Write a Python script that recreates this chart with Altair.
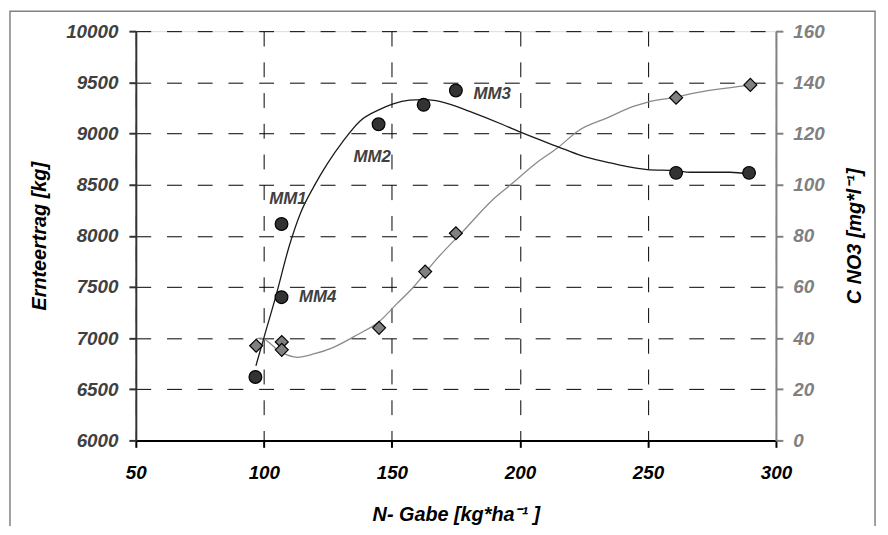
import altair as alt
import pandas as pd

FONT = "Liberation Sans"

# measured points: yield (left axis)
yield_x = [96.7, 106.9, 106.9, 144.8, 162.4, 175.0, 261.0, 289.5]
yield_y = [6620, 7400, 8115, 9090, 9280, 9420, 8615, 8615]

# measured points: NO3 concentration (right axis)
no3_x = [97.0, 107.0, 107.0, 145.0, 163.0, 175.0, 261.0, 290.0]
no3_y = [37.0, 38.5, 35.4, 44.0, 66.0, 81.0, 134.0, 139.0]

# smoothed curve of yield
curve1_x = [96.9, 100.2, 104.7, 109.8, 114.3, 119.5, 124.7, 131.1, 137.5, 145.3, 150.5,
            156.9, 162.0, 167.2, 173.7, 180.1, 193.0, 200.7, 214.9, 224.0, 234.3, 242.0,
            249.7, 260.7, 266.5, 282.0, 289.5]
curve1_y = [6730, 7020, 7410, 7890, 8220, 8480, 8700, 8930, 9120, 9235, 9290,
            9325, 9330, 9322, 9277, 9218, 9090, 9008, 8870, 8783, 8718, 8676,
            8647, 8637, 8621, 8621, 8605]

# smoothed curve of NO3
curve2_x = [96.9, 98.8, 106.6, 113.1, 119.5, 127.2, 136.3, 145.3, 151.7, 158.2, 167.2,
            178.0, 189.2, 196.8, 205.9, 214.9, 222.7, 234.3, 244.6, 249.7, 260.7, 266.5, 289.5]
curve2_y = [39.6, 40.0, 34.5, 32.5, 33.8, 36.4, 41.2, 46.7, 53.2, 59.7, 70.6,
            82.0, 93.9, 100.3, 108.1, 114.5, 121.0, 126.2, 130.7, 132.2, 134.2, 135.5, 138.8]

# annotation labels (anchor in data units)
label_text = ["MM1", "MM2", "MM3", "MM4"]
label_x = [102.1, 135.0, 181.9, 113.7]
label_y = [8356, 8766, 9390, 7400]

x_ticks = [50, 100, 150, 200, 250, 300]
y1_ticks = list(range(6000, 10001, 500))
y2_ticks = list(range(0, 161, 20))

df_yield = pd.DataFrame({"x": yield_x, "y": yield_y})
df_no3 = pd.DataFrame({"x": no3_x, "y": no3_y})
df_c1 = pd.DataFrame({"x": curve1_x, "y": curve1_y})
df_c2 = pd.DataFrame({"x": curve2_x, "y": curve2_y})
df_lab = pd.DataFrame({"x": label_x, "y": label_y, "t": label_text})

W, H = 646, 413
LBL = 19

xscale = alt.Scale(domain=[50, 300], nice=False, zero=False)
y1scale = alt.Scale(domain=[6000, 10000], nice=False, zero=False)
y2scale = alt.Scale(domain=[0, 160], nice=False, zero=False)

common_lbl = dict(labelFont=FONT, labelFontStyle="italic", labelFontWeight="bold",
                  titleFont=FONT, titleFontStyle="italic", titleFontWeight="bold",
                  titleColor="#000000")

x_axis = alt.Axis(values=x_ticks, format="d", grid=True, gridDash=[15, 16], gridColor="#000000",
                  gridWidth=1, domainColor="#000000", domainWidth=2, tickColor="#000000",
                  tickWidth=2, tickSize=7, labelColor="#000000", labelFontSize=LBL,
                  labelPadding=16, labelFlush=False, labelOverlap=False,
                  title="N- Gabe [kg*ha\u207b\u00b9 ]", titleFontSize=20,
                  titleX=W / 2, titleY=75, titleAlign="center", titleBaseline="middle",
                  **common_lbl)

y1_axis = alt.Axis(values=y1_ticks, format="d", orient="left", grid=True, gridDash=[15, 16],
                   gridColor="#000000", gridWidth=1, domainColor="#333333", domainWidth=2,
                   tickColor="#333333", tickWidth=2, tickSize=7, labelColor="#404040",
                   labelFontSize=LBL, labelPadding=11, labelOverlap=False,
                   title="Ernteertrag [kg]", titleFontSize=20, titleAngle=270,
                   titleX=-97, titleY=H / 2, titleAlign="center", titleBaseline="middle",
                   **common_lbl)

y2_axis = alt.Axis(values=y2_ticks, format="d", orient="right", grid=False,
                   domainColor="#808080", domainWidth=2, tickColor="#808080", tickWidth=2,
                   tickSize=7, labelColor="#808080", labelFontSize=LBL, labelPadding=10,
                   labelOverlap=False,
                   title="C NO3 [mg*l\u207b\u00b9]", titleFontSize=20, titleAngle=270,
                   titleX=79, titleY=H / 2, titleAlign="center", titleBaseline="middle",
                   **common_lbl)

X = alt.X("x:Q", scale=xscale, axis=x_axis)

border = alt.Chart(alt.Data(values=[{"k": 1}])).mark_rect(
    fillOpacity=0, stroke="#808080", strokeWidth=1.5
).encode(x=alt.value(-127), x2=alt.value(746), y=alt.value(-20), y2=alt.value(600))

line2 = alt.Chart(df_c2).mark_line(color="#8a8a8a", strokeWidth=1.3, interpolate="monotone").encode(
    x=X,
    y=alt.Y("y:Q", scale=y2scale, axis=y2_axis),
)
line1 = alt.Chart(df_c1).mark_line(color="#1a1a1a", strokeWidth=1.3, interpolate="monotone").encode(
    x=X,
    y=alt.Y("y:Q", scale=y1scale, axis=y1_axis),
)
diamonds = alt.Chart(df_no3).mark_point(
    shape="diamond", filled=True, size=170, fill="#808080", stroke="#000000",
    strokeWidth=1.2, opacity=1
).encode(
    x=X,
    y=alt.Y("y:Q", scale=y2scale, axis=None),
)
circles = alt.Chart(df_yield).mark_point(
    shape="circle", filled=True, size=165, fill="#333333", stroke="#000000",
    strokeWidth=1.2, opacity=1
).encode(
    x=X,
    y=alt.Y("y:Q", scale=y1scale, axis=None),
)
labels = alt.Chart(df_lab).mark_text(
    align="left", baseline="middle", font=FONT, fontSize=17, fontStyle="italic",
    fontWeight="bold", color="#404040"
).encode(
    x=X,
    y=alt.Y("y:Q", scale=y1scale, axis=None),
    text="t:N",
)

chart = alt.layer(border, line2, line1, diamonds, circles, labels).resolve_scale(
    y="independent"
).properties(
    width=W, height=H,
    autosize=alt.AutoSizeParams(type="none"),
    padding={"left": 129, "top": 21, "right": 105, "bottom": 84},
).configure_view(strokeWidth=0).configure(background="white")

chart.save("out.html", embed_options={"renderer": "svg", "actions": False})
